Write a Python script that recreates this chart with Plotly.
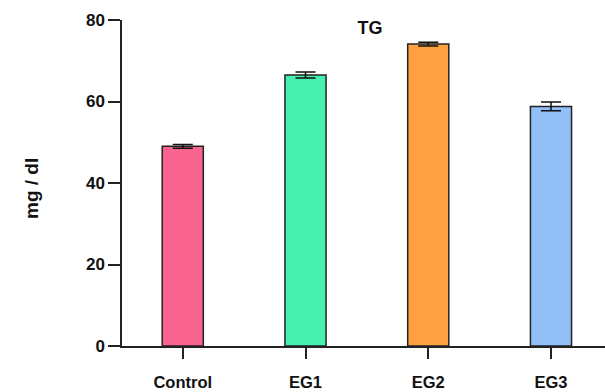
import plotly.graph_objects as go

# Triglyceride levels per group
groups = ["Control", "EG1", "EG2", "EG3"]
means = [49.0, 66.5, 74.1, 58.8]
errors = [0.45, 0.75, 0.45, 1.1]
colors = ["#F8648F", "#45F0B0", "#FFA140", "#91BFF8"]

FONT = "Liberation Sans, Arial, sans-serif"
W, H = 605, 392
L, R, T, B = 122, 0, 20, 46

fig = go.Figure(
    go.Bar(
        x=list(range(len(groups))),
        y=means,
        width=0.335,
        marker=dict(color=colors, line=dict(color="#222222", width=1.5)),
        error_y=dict(type="data", array=errors, visible=True,
                     color="#111111", thickness=1.5, width=10),
    )
)

fig.update_layout(
    width=W,
    height=H,
    margin=dict(l=L, r=R, t=T, b=B),
    plot_bgcolor="white",
    paper_bgcolor="white",
    showlegend=False,
    title=dict(text="TG", x=370 / W, xanchor="center", y=1 - 28 / H, yanchor="middle",
               font=dict(family=FONT, size=18, color="#111111", weight="bold")),
    font=dict(family=FONT, color="#111111"),
)

# y-axis title placed as a rotated annotation
fig.add_annotation(
    text="mg / dl", textangle=-90, showarrow=False,
    xref="paper", yref="paper",
    x=(31 - L) / (W - L - R), y=1 - (189 - T) / (H - T - B),
    xanchor="center", yanchor="middle",
    font=dict(family=FONT, size=19, color="#111111", weight="bold"),
)

fig.update_xaxes(
    range=[-0.495, 3.44],
    tickmode="array",
    tickvals=list(range(len(groups))),
    ticktext=groups,
    automargin=False,
    showline=True, linecolor="#222222", linewidth=1.5,
    ticks="outside", ticklen=11, tickwidth=1.5, tickcolor="#222222",
    ticklabelstandoff=9,
    tickfont=dict(family=FONT, size=16.5, color="#111111", weight="bold"),
    showgrid=False, zeroline=False,
)

fig.update_yaxes(
    range=[0, 80],
    tickvals=[0, 20, 40, 60, 80],
    automargin=False,
    showline=True, linecolor="#222222", linewidth=1.5,
    ticks="outside", ticklen=12, tickwidth=1.5, tickcolor="#222222",
    tickfont=dict(family=FONT, size=17, color="#111111", weight="bold"),
    showgrid=False, zeroline=False,
)

fig.write_html("out.html")
